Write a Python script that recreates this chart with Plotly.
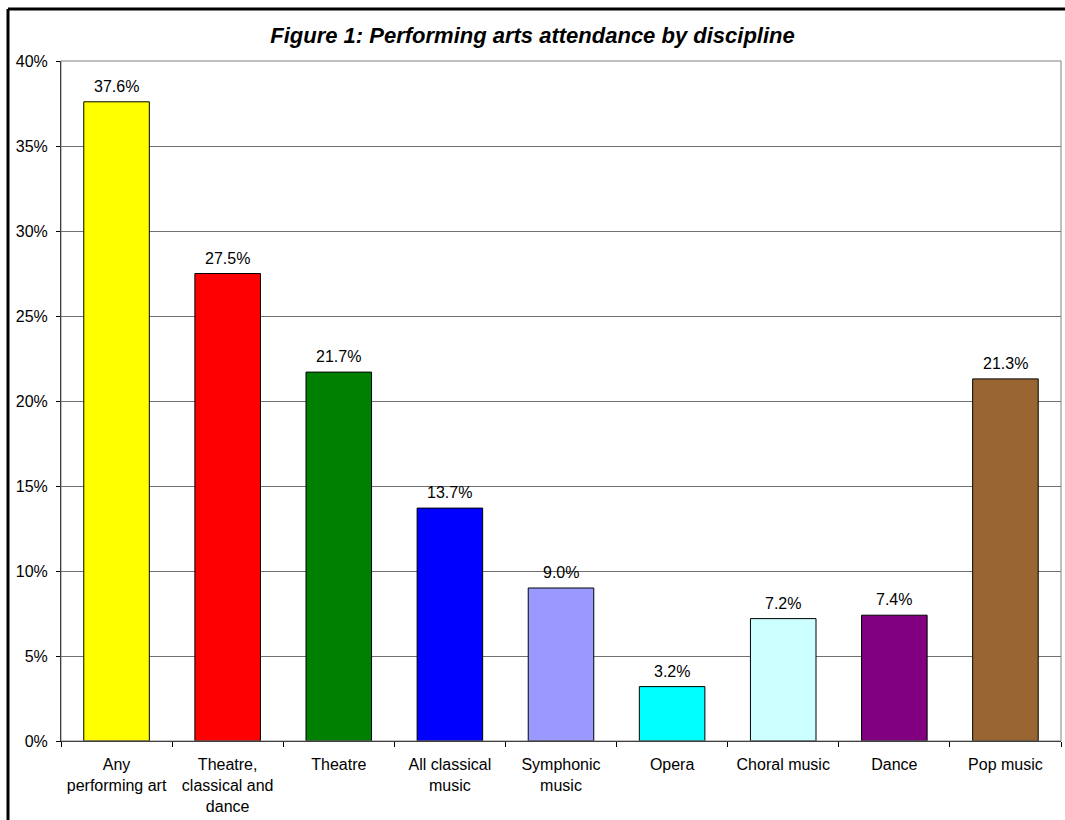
import plotly.graph_objects as go

# Attendance share by discipline (percent of adults)
categories = [
    "Any<br>performing art",
    "Theatre,<br>classical and<br>dance",
    "Theatre",
    "All classical<br>music",
    "Symphonic<br>music",
    "Opera",
    "Choral music",
    "Dance",
    "Pop music",
]
values = [37.6, 27.5, 21.7, 13.7, 9.0, 3.2, 7.2, 7.4, 21.3]
bar_colors = ["#FFFF00", "#FF0000", "#008000", "#0000FF", "#9999FF",
              "#00FFFF", "#CCFFFF", "#800080", "#996633"]
y_ticks = [0, 5, 10, 15, 20, 25, 30, 35, 40]
y_tick_text = [f"{v}%" for v in y_ticks]

FONT = "Liberation Sans, Arial, sans-serif"

fig = go.Figure(
    go.Bar(
        x=categories,
        y=values,
        marker=dict(color=bar_colors, line=dict(color="#000000", width=1)),
        width=0.59,
        hoverinfo="x+y",
    )
)

# value labels above each bar
for cat, val in zip(categories, values):
    fig.add_annotation(
        x=cat, y=val, xref="x", yref="y",
        text=f"{val:.1f}%",
        showarrow=False,
        yanchor="bottom",
        yshift=5,
        font=dict(family=FONT, size=16, color="#000000"),
    )

W, H = 1065, 820
L, R, T, B = 61, 4, 61, 79
pw, ph = W - L - R, H - T - B


def px_x(p):
    return (p - L) / pw


def px_y(p):
    return (H - B - p) / ph


fig.update_layout(
    width=W,
    height=H,
    margin=dict(l=L, r=R, t=T, b=B),
    paper_bgcolor="#FFFFFF",
    plot_bgcolor="#FFFFFF",
    showlegend=False,
    font=dict(family=FONT, size=16, color="#000000"),
    title=dict(
        text="<b><i>Figure 1: Performing arts attendance by discipline</i></b>",
        x=0.5,
        xanchor="center",
        y=1 - 35 / H,
        yanchor="middle",
        font=dict(family=FONT, size=22, color="#000000"),
    ),
    xaxis=dict(
        type="category",
        tickson="boundaries",
        ticks="outside",
        ticklen=5,
        tickcolor="#000000",
        showline=True,
        linecolor="#000000",
        linewidth=1,
        showgrid=False,
        ticklabelstandoff=9,
        tickfont=dict(family=FONT, size=16, color="#000000"),
        fixedrange=True,
    ),
    yaxis=dict(
        range=[0, 40],
        tickvals=y_ticks,
        ticktext=y_tick_text,
        ticks="outside",
        ticklen=4,
        tickcolor="#000000",
        showline=True,
        linecolor="#000000",
        linewidth=1,
        showgrid=True,
        gridcolor="#707070",
        gridwidth=1,
        zeroline=False,
        ticklabelstandoff=5,
        tickfont=dict(family=FONT, size=16, color="#000000"),
        fixedrange=True,
    ),
    bargap=0.41,
    shapes=[
        # plot area border
        dict(type="rect", xref="paper", yref="paper", x0=0, y0=0, x1=1, y1=1,
             line=dict(color="#808080", width=1), layer="above"),
        # outer chart frame (top and left edges)
        dict(type="line", xref="paper", yref="paper",
             x0=px_x(8), y0=px_y(9), x1=px_x(W + 5), y1=px_y(9),
             line=dict(color="#000000", width=3)),
        dict(type="line", xref="paper", yref="paper",
             x0=px_x(8), y0=px_y(9), x1=px_x(8), y1=px_y(H + 5),
             line=dict(color="#000000", width=3)),
    ],
)

fig.write_html("out.html")
